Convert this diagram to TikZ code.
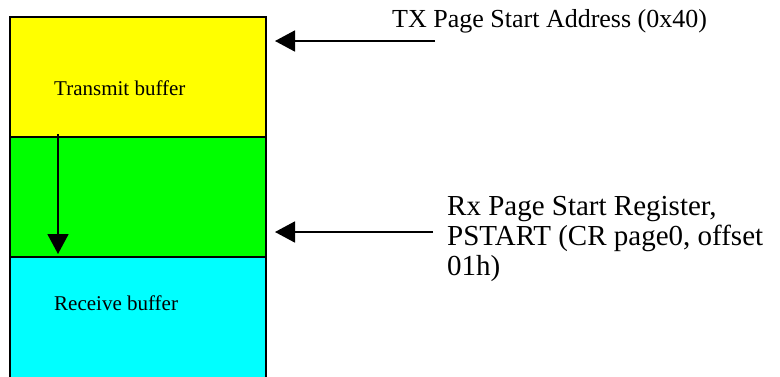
\documentclass[tikz,border=0pt]{standalone}
\usepackage{fontspec}
\setmainfont{Liberation Serif}
\usetikzlibrary{arrows.meta,positioning}
\definecolor{txfill}{RGB}{255,255,0}
\definecolor{gapfill}{RGB}{0,255,0}
\definecolor{rxfill}{RGB}{0,255,255}
\begin{document}
\begin{tikzpicture}[x=1pt,y=-1pt,
  buf/.style={draw,line width=1.5pt,minimum width=256pt,anchor=north west,inner sep=0pt,outer sep=0pt},
  ptr/.style={line width=1.8pt,-{Triangle[length=20pt,width=21pt]}},
  lbl/.style={anchor=base west,inner sep=0pt}]
\useasboundingbox (0,0) rectangle (780,376);
\pgfmathsetmacro{\bx}{10}
\pgfmathsetmacro{\by}{17}
\pgfmathsetmacro{\bh}{120}
\foreach \i/\c/\n/\h in {0/txfill/tx/120,1/gapfill/gap/120,2/rxfill/rx/140}{
  \node[buf,fill=\c,minimum height=\h pt] (\n) at (\bx,\by+\i*\bh) {};}
\node[lbl,font=\fontsize{21}{25}\selectfont] (txbuf) at (54,95) {Transmit buffer};
\node[lbl,font=\fontsize{21}{25}\selectfont] (rxbuf) at (54,310) {Receive buffer};
\node[lbl,font=\fontsize{26}{30}\selectfont] (txstart) at (392,27) {TX Page Start Address (0x40)};
\node[lbl,align=left,font=\fontsize{29}{30}\selectfont] (pstart) at (447,275)
  {Rx Page Start Register,\\PSTART (CR page0, offset\\01h)};
\coordinate (drop) at (58,134);
\coordinate (txtail) at (435,41);
\coordinate (rxtail) at (433,232);
\draw[ptr,shorten >=3pt] (drop) -- (drop |- rx.north);
\draw[ptr,shorten >=9pt] (txtail) -- (txtail -| tx.east);
\draw[ptr,shorten >=9pt] (rxtail) -- (rxtail -| gap.east);
\end{tikzpicture}
\end{document}
